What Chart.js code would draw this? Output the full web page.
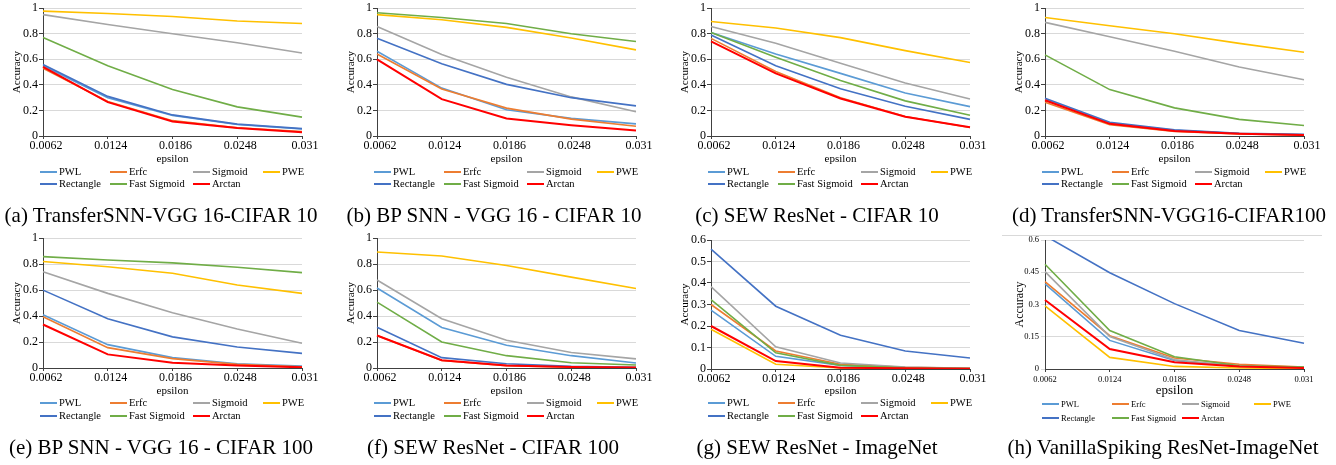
<!DOCTYPE html>
<html><head><meta charset="utf-8">
<script src="https://cdn.jsdelivr.net/npm/chart.js@4.4.1/dist/chart.umd.min.js"></script>
<style>
html,body{margin:0;padding:0;background:#fff;}
#root{position:relative;width:1336px;height:465px;overflow:hidden;font-family:"Liberation Serif","Times New Roman",serif;background:#fff;}
canvas{position:absolute;}
.cap{position:absolute;width:400px;text-align:center;font-size:21px;line-height:24px;color:#000;white-space:nowrap;}
.lg{position:absolute;line-height:12px;color:#000;white-space:nowrap;}
.sw{position:absolute;width:17px;}
</style></head><body><div id="root"></div>
<script>
// ---------- DATA ----------
const epsilonLabels = ['0.0062', '0.0124', '0.0186', '0.0248', '0.031'];
const seriesNames = ['PWL', 'Erfc', 'Sigmoid', 'PWE', 'Rectangle', 'Fast Sigmoid', 'Arctan'];
const seriesColors = ['#5B9BD5', '#ED7D31', '#A5A5A5', '#FFC000', '#4472C4', '#70AD47', '#FF0000'];
const yTicksUnit = [0, 0.2, 0.4, 0.6, 0.8, 1];
const yTicksTenth = [0, 0.1, 0.2, 0.3, 0.4, 0.5, 0.6];
const yTicksFifteen = [0, 0.15, 0.3, 0.45, 0.6];

// rows follow seriesNames order
const accA = [
  [0.55, 0.30, 0.16, 0.09, 0.055],
  [0.53, 0.27, 0.12, 0.065, 0.035],
  [0.95, 0.873, 0.80, 0.73, 0.65],
  [0.977, 0.958, 0.935, 0.90, 0.88],
  [0.56, 0.31, 0.165, 0.093, 0.058],
  [0.77, 0.55, 0.363, 0.228, 0.148],
  [0.54, 0.265, 0.113, 0.062, 0.03]
];
const accB = [
  [0.663, 0.375, 0.205, 0.138, 0.095],
  [0.642, 0.368, 0.218, 0.132, 0.076],
  [0.857, 0.637, 0.46, 0.306, 0.19],
  [0.95, 0.91, 0.85, 0.767, 0.674],
  [0.764, 0.565, 0.404, 0.30, 0.236],
  [0.964, 0.927, 0.88, 0.80, 0.74],
  [0.60, 0.288, 0.137, 0.085, 0.043]
];
const accC = [
  [0.81, 0.642, 0.49, 0.337, 0.23],
  [0.764, 0.505, 0.30, 0.152, 0.067],
  [0.857, 0.725, 0.57, 0.415, 0.29],
  [0.896, 0.845, 0.77, 0.668, 0.575],
  [0.79, 0.55, 0.37, 0.233, 0.13],
  [0.81, 0.617, 0.435, 0.275, 0.163],
  [0.74, 0.49, 0.293, 0.15, 0.068]
];
const accD = [
  [0.285, 0.10, 0.045, 0.02, 0.01],
  [0.265, 0.088, 0.036, 0.017, 0.008],
  [0.889, 0.777, 0.663, 0.54, 0.44],
  [0.927, 0.863, 0.80, 0.725, 0.655],
  [0.295, 0.108, 0.048, 0.022, 0.013],
  [0.635, 0.363, 0.22, 0.13, 0.082],
  [0.28, 0.095, 0.04, 0.018, 0.007]
];
const accE = [
  [0.41, 0.18, 0.08, 0.033, 0.015],
  [0.395, 0.157, 0.072, 0.028, 0.01],
  [0.742, 0.575, 0.425, 0.30, 0.19],
  [0.82, 0.78, 0.73, 0.64, 0.575],
  [0.60, 0.38, 0.24, 0.162, 0.113],
  [0.858, 0.832, 0.81, 0.776, 0.735],
  [0.335, 0.105, 0.04, 0.02, 0.005]
];
const accF = [
  [0.616, 0.312, 0.175, 0.095, 0.039],
  [0.25, 0.058, 0.018, 0.007, 0.002],
  [0.678, 0.38, 0.214, 0.12, 0.07],
  [0.894, 0.863, 0.79, 0.70, 0.613],
  [0.314, 0.08, 0.033, 0.013, 0.005],
  [0.508, 0.20, 0.095, 0.041, 0.023],
  [0.25, 0.06, 0.02, 0.008, 0.003]
];
const accG = [
  [0.274, 0.059, 0.017, 0.005, 0.002],
  [0.30, 0.084, 0.022, 0.008, 0.003],
  [0.383, 0.103, 0.028, 0.009, 0.003],
  [0.185, 0.022, 0.005, 0.002, 0.0],
  [0.558, 0.292, 0.157, 0.084, 0.051],
  [0.323, 0.075, 0.017, 0.006, 0.002],
  [0.20, 0.037, 0.006, 0.003, 0.001]
];
const accH = [
  [0.396, 0.133, 0.04, 0.012, 0.006],
  [0.406, 0.155, 0.051, 0.022, 0.009],
  [0.453, 0.151, 0.043, 0.012, 0.008],
  [0.294, 0.054, 0.012, 0.005, 0.002],
  [0.62, 0.448, 0.304, 0.179, 0.12],
  [0.487, 0.179, 0.057, 0.015, 0.009],
  [0.321, 0.093, 0.031, 0.012, 0.005]
];
const captions = [
  '(a) TransferSNN-VGG 16-CIFAR 10',
  '(b) BP SNN - VGG 16 - CIFAR 10',
  '(c) SEW ResNet - CIFAR 10',
  '(d) TransferSNN-VGG16-CIFAR100',
  '(e) BP SNN - VGG 16 - CIFAR 100',
  '(f) SEW ResNet - CIFAR 100',
  '(g) SEW ResNet - ImageNet',
  '(h) VanillaSpiking ResNet-ImageNet'
];

// ---------- LAYOUT ----------
const FONT = '"Liberation Serif", "Times New Roman", serif';
const panels = [
  {acc: accA, ticks: yTicksUnit, max: 1, col: 0, row: 0, capX: 161},
  {acc: accB, ticks: yTicksUnit, max: 1, col: 1, row: 0, capX: 494},
  {acc: accC, ticks: yTicksUnit, max: 1, col: 2, row: 0, capX: 817},
  {acc: accD, ticks: yTicksUnit, max: 1, col: 3, row: 0, capX: 1169},
  {acc: accE, ticks: yTicksUnit, max: 1, col: 0, row: 1, capX: 161},
  {acc: accF, ticks: yTicksUnit, max: 1, col: 1, row: 1, capX: 493},
  {acc: accG, ticks: yTicksTenth, max: 0.6, col: 2, row: 1, capX: 817, padTop: 10},
  {acc: accH, ticks: yTicksFifteen, max: 0.6, col: 3, row: 1, capX: 1163, padTop: 10, small: true}
];

const root = document.getElementById('root');
const COLW = 334;

panels.forEach((p, idx) => {
  const x0 = p.col * COLW;
  const top = p.row === 0 ? 0 : 230;
  const h = p.row === 0 ? 170 : 172;
  const padTop = p.padTop !== undefined ? p.padTop : (p.row === 0 ? 7 : 8);
  const areaBottom = p.row === 0 ? 136 : (p.padTop ? 139 : 138);
  const xH = h - areaBottom;

  const cv = document.createElement('canvas');
  cv.width = COLW; cv.height = h;
  cv.style.left = x0 + 'px'; cv.style.top = top + 'px';
  cv.style.width = COLW + 'px'; cv.style.height = h + 'px';
  root.appendChild(cv);

  const tickFont = p.small ? 8.5 : 12;
  const datasets = seriesNames.map((name, i) => ({
    label: name,
    data: p.acc[i],
    borderColor: seriesColors[i],
    backgroundColor: seriesColors[i],
    borderWidth: name === 'Arctan' ? 2 : 1.6,
    pointRadius: 0,
    tension: 0,
    fill: false,
    order: seriesNames.length - 1 - i
  }));

  new Chart(cv, {
    type: 'line',
    data: {labels: epsilonLabels, datasets},
    options: {
      responsive: false,
      animation: false,
      devicePixelRatio: 1,
      layout: {padding: {left: 7, right: 32, top: padTop, bottom: 0}},
      plugins: {legend: {display: false}, tooltip: {enabled: false}},
      scales: {
        x: {
          type: 'category',
          offset: false,
          grid: {drawOnChartArea: false, drawTicks: true, tickLength: 3, tickColor: '#404040'},
          border: {color: '#404040', width: 1},
          ticks: {font: {family: FONT, size: tickFont}, color: '#000', padding: p.small ? 3 : 0,
                  maxRotation: 0, autoSkip: false, labelOffset: p.small ? 0 : 3},
          title: {display: true, text: 'epsilon', color: '#000',
                  font: {family: FONT, size: p.small ? 13 : 11}, padding: {top: 2, bottom: 4}},
          afterFit: s => { s.height = xH; }
        },
        y: {
          type: 'linear',
          min: 0, max: p.max,
          afterBuildTicks: s => { s.ticks = p.ticks.map(v => ({value: v})); },
          grid: {color: '#D9D9D9', lineWidth: 1, drawTicks: true, tickLength: 4,
                 tickColor: p.small ? '#D9D9D9' : '#404040'},
          border: {color: '#404040', width: 1},
          ticks: {font: {family: FONT, size: tickFont}, color: '#000', padding: p.small ? 2 : 1,
                  callback: v => String(+Number(v).toFixed(2))},
          title: {display: true, text: 'Accuracy', color: '#000',
                  font: {family: FONT, size: p.small ? 12 : 11}, padding: {top: 4, bottom: 0}},
          afterFit: s => { s.width = 36; }
        }
      }
    }
  });

  // legend (HTML, built from seriesNames / seriesColors)
  const cols = p.small ? [40, 110, 180, 252] : [40, 110, 193, 263];
  const rowsY = p.row === 0 ? [172, 184] : (p.small ? [404, 418] : [403, 416]);
  seriesNames.forEach((name, i) => {
    const r = i < 4 ? 0 : 1;
    const c = i < 4 ? i : i - 4;
    const lx = x0 + cols[c];
    const ly = rowsY[r];
    const sw = document.createElement('div');
    sw.className = 'sw';
    sw.style.left = lx + 'px';
    const thick = name === 'Arctan' ? 2.5 : 2;
    sw.style.top = (ly - thick / 2) + 'px';
    sw.style.height = thick + 'px';
    sw.style.background = seriesColors[i];
    root.appendChild(sw);
    const t = document.createElement('div');
    t.className = 'lg';
    t.textContent = name;
    t.style.fontSize = (p.small ? 8.5 : 10.5) + 'px';
    t.style.left = (lx + 19) + 'px';
    t.style.top = (ly - 6) + 'px';
    root.appendChild(t);
  });

  // caption
  const cap = document.createElement('div');
  cap.className = 'cap';
  cap.textContent = captions[idx];
  cap.style.left = (p.capX - 200) + 'px';
  cap.style.top = (p.row === 0 ? 203 : 435) + 'px';
  root.appendChild(cap);
});

// thin rule above panel (h)
const rule = document.createElement('div');
rule.style.cssText = 'position:absolute;left:1002px;top:235px;width:320px;height:1px;background:#D9D9D9;';
root.appendChild(rule);
</script>
</body></html>
